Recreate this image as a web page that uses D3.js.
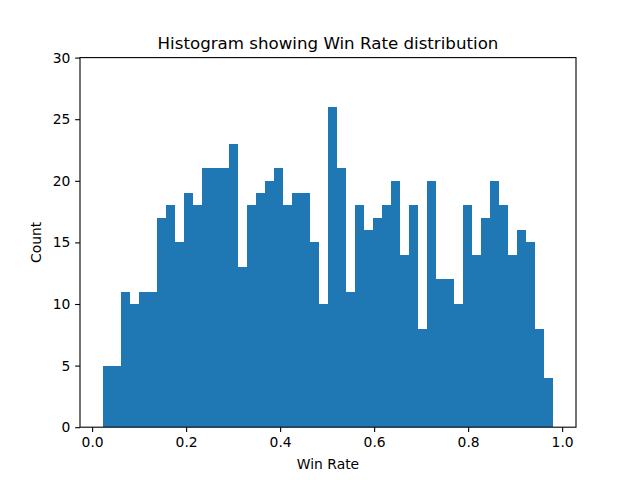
<!DOCTYPE html>
<html><head><meta charset="utf-8">
<script src="https://cdn.jsdelivr.net/npm/d3@7"></script>
<style>body{margin:0;background:#fff}svg{display:block}text{font-family:"DejaVu Sans",sans-serif;fill:#000}</style>
</head><body><div id="chart"></div>
<script>
const counts = [5,5,11,10,11,11,17,18,15,19,18,21,21,21,23,13,18,19,20,21,18,19,19,15,10,
                26,21,11,18,16,17,18,20,14,18,8,20,12,12,10,18,14,17,20,18,14,16,15,8,4];
const dataMin = 0.0222, dataMax = 0.9815;
const xTicks = [0.0,0.2,0.4,0.6,0.8,1.0];
const yTicks = [0,5,10,15,20,25,30];
const title = "Histogram showing Win Rate distribution";
const xLabel = "Win Rate", yLabel = "Count";

const W=640,H=480, L=80, R=576, T=57.6, B=427.2;
const svg=d3.select("#chart").append("svg").attr("width",W).attr("height",H);
const span=dataMax-dataMin;
const x=d3.scaleLinear().domain([dataMin-0.05*span,dataMax+0.05*span]).range([L,R]);
const y=d3.scaleLinear().domain([0,30]).range([B,T]);
const bw=span/counts.length;
const bins=counts.map((c,i)=>({x0:dataMin+i*bw,x1:dataMin+(i+1)*bw,c}));
svg.append("g").selectAll("rect").data(bins).join("rect")
  .attr("x",d=>x(d.x0)).attr("width",d=>x(d.x1)-x(d.x0))
  .attr("y",d=>y(d.c)).attr("height",d=>y(0)-y(d.c))
  .attr("fill","#1f77b4").attr("shape-rendering","crispEdges");
const fmt=d3.format(".1f");
const gx=svg.append("g").attr("transform",`translate(0,${B})`)
  .call(d3.axisBottom(x).tickValues(xTicks).tickFormat(fmt).tickSize(4.86).tickPadding(4.86));
const gy=svg.append("g").attr("transform",`translate(${L},0)`)
  .call(d3.axisLeft(y).tickValues(yTicks).tickSize(4.86).tickPadding(4.86));
[gx,gy].forEach(g=>{g.select(".domain").remove();
  g.selectAll("line").attr("stroke","#000").attr("stroke-width",1.1);
  g.selectAll("text").attr("font-size","13.89px").attr("font-family","DejaVu Sans").attr("fill","#000");});
svg.append("rect").attr("x",L).attr("y",T).attr("width",R-L).attr("height",B-T)
  .attr("fill","none").attr("stroke","#000").attr("stroke-width",1.1);
svg.append("text").attr("x",(L+R)/2).attr("y",T-8.3).attr("text-anchor","middle")
  .attr("font-size","16.67px").text(title);
svg.append("text").attr("x",(L+R)/2).attr("y",469).attr("text-anchor","middle")
  .attr("font-size","13.89px").text(xLabel);
svg.append("text").attr("transform",`translate(41,${(T+B)/2}) rotate(-90)`).attr("text-anchor","middle")
  .attr("font-size","13.89px").text(yLabel);
</script></body></html>
